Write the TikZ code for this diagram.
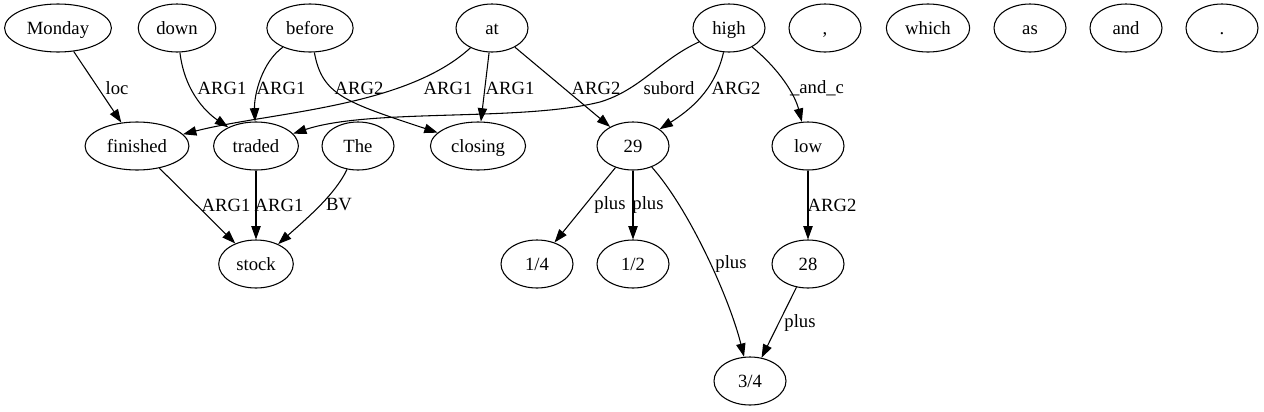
\documentclass[tikz,border=0pt]{standalone}
\usepackage{fontspec}
\setmainfont{Liberation Serif}
\usetikzlibrary{shapes.geometric,arrows.meta}

\begin{document}
\begin{tikzpicture}[x=0.75pt,y=-0.75pt,
  word/.style={draw,ellipse,line width=0.8pt,minimum width=54pt,minimum height=36pt,
    inner xsep=5pt,text height=9.6pt,text depth=0pt,font=\fontsize{14pt}{16pt}\selectfont},
  rel/.style={inner sep=0pt,font=\fontsize{14pt}{16pt}\selectfont},
  edge/.style={-{Triangle[length=10pt,width=7pt]},line width=0.8pt}]
  \useasboundingbox (0,0) rectangle (1264,411);
      % top row
      \node[word] (Monday) at (58,28) {Monday};
      \node[word] (down) at (177,28) {down};
      \node[word] (before) at (310,28) {before};
      \node[word] (at) at (492,28) {at};
      \node[word] (high) at (729,28) {high};
      \node[word] (comma) at (825,28) {,};
      \node[word] (which) at (928,28) {which};
      \node[word] (as) at (1030,28) {as};
      \node[word] (and) at (1126,28) {and};
      \node[word] (period) at (1222,28) {.};
      % second row
      \node[word] (finished) at (137,146) {finished};
      \node[word] (traded) at (256,146) {traded};
      \node[word] (The) at (358,146) {The};
      \node[word] (closing) at (478,146) {closing};
      \node[word] (n29) at (633,146) {29};
      \node[word] (low) at (808,146) {low};
      % third row
      \node[word] (stock) at (256,264) {stock};
      \node[word] (q14) at (537,264) {1/4};
      \node[word] (h12) at (633,264) {1/2};
      \node[word] (n28) at (808,264) {28};
      \node[word] (q34) at (750,381) {3/4};
      % edges
      \draw[edge] (Monday) -- (finished) node[rel] at (117,88) {loc};
      \draw[edge] (down) .. controls (185,95) and (210,115) .. (traded) node[rel] at (222,88) {ARG1};
      \draw[edge] (before) .. controls (262,62) and (254,95) .. (traded) node[rel] at (281,88) {ARG1};
      \draw[edge] (before) .. controls (322,95) and (345,102) .. (closing) node[rel] at (359,88) {ARG2};
      \draw[edge] (at) .. controls (405,108) and (270,112) .. (finished) node[rel] at (448,88) {ARG1};
      \draw[edge] (at) -- (closing) node[rel] at (510,88) {ARG1};
      \draw[edge] (at) -- (n29) node[rel] at (596,88) {ARG2};
      \draw[edge] (high) .. controls (660,60) and (640,90) .. (600,102)
        .. controls (520,122) and (370,108) .. (traded) node[rel] at (669,88) {subord};
      \draw[edge] (high) .. controls (715,90) and (690,110) .. (n29) node[rel] at (736,88) {ARG2};
      \draw[edge] (high) .. controls (780,70) and (795,95) .. (low) node[rel] at (817,88) {\_and\_c};
      \draw[edge] (finished) -- (stock) node[rel] at (226,205) {ARG1};
      \draw[edge] (traded) -- (stock) node[rel] at (279,205) {ARG1};
      \draw[edge] (The) .. controls (335,195) and (305,220) .. (stock) node[rel] at (339,205) {BV};
      \draw[edge] (n29) -- (q14) node[rel] at (610,205) {plus};
      \draw[edge] (n29) -- (h12) node[rel] at (648,205) {plus};
      \draw[edge] (n29) .. controls (690,210) and (730,300) .. (q34) node[rel] at (731,264) {plus};
      \draw[edge] (low) -- (n28) node[rel] at (832,205) {ARG2};
      \draw[edge] (n28) -- (q34) node[rel] at (800,323) {plus};
  \end{tikzpicture}
\end{document}
